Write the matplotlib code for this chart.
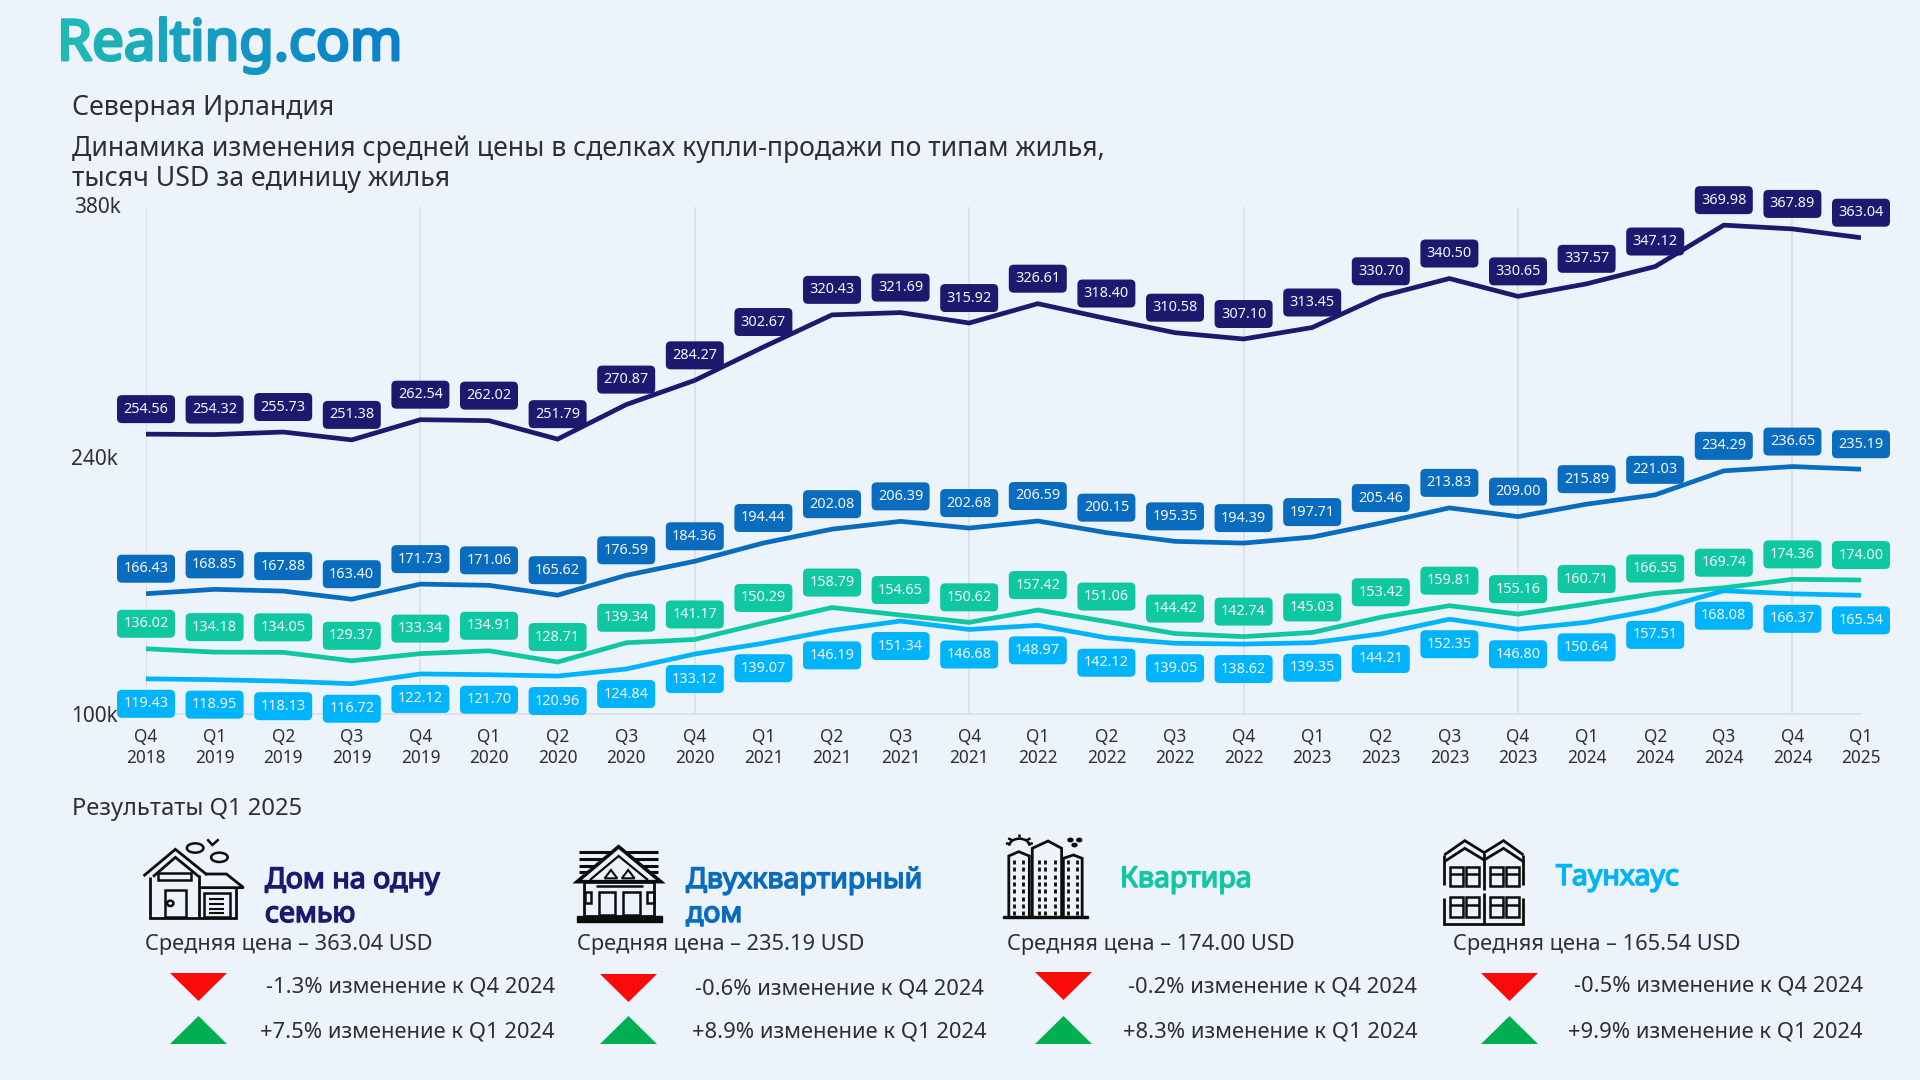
import numpy as np
import matplotlib
matplotlib.use("Agg")
import matplotlib.pyplot as plt
import matplotlib.patheffects as pe
from matplotlib.transforms import ScaledTranslation
from matplotlib.patches import FancyBboxPatch, Polygon, Rectangle, Ellipse, Arc

quarters = ["Q4\n2018","Q1\n2019","Q2\n2019","Q3\n2019","Q4\n2019","Q1\n2020","Q2\n2020","Q3\n2020","Q4\n2020",
            "Q1\n2021","Q2\n2021","Q3\n2021","Q4\n2021","Q1\n2022","Q2\n2022","Q3\n2022","Q4\n2022",
            "Q1\n2023","Q2\n2023","Q3\n2023","Q4\n2023","Q1\n2024","Q2\n2024","Q3\n2024","Q4\n2024","Q1\n2025"]
house = [254.56,254.32,255.73,251.38,262.54,262.02,251.79,270.87,284.27,302.67,320.43,321.69,315.92,326.61,318.40,310.58,307.10,313.45,330.70,340.50,330.65,337.57,347.12,369.98,367.89,363.04]
duplex = [166.43,168.85,167.88,163.40,171.73,171.06,165.62,176.59,184.36,194.44,202.08,206.39,202.68,206.59,200.15,195.35,194.39,197.71,205.46,213.83,209.00,215.89,221.03,234.29,236.65,235.19]
flat = [136.02,134.18,134.05,129.37,133.34,134.91,128.71,139.34,141.17,150.29,158.79,154.65,150.62,157.42,151.06,144.42,142.74,145.03,153.42,159.81,155.16,160.71,166.55,169.74,174.36,174.00]
town = [119.43,118.95,118.13,116.72,122.12,121.70,120.96,124.84,133.12,139.07,146.19,151.34,146.68,148.97,142.12,139.05,138.62,139.35,144.21,152.35,146.80,150.64,157.51,168.08,166.37,165.54]
y_ticks = [100, 240, 380]
y_tick_labels = ["100k", "240k", "380k"]

NAVY, BLUE, GREEN, SKY = "#1b1a6f", "#0a6cbe", "#0fc7a0", "#00b4fb"
BG, TXT = "#edf3fb", "#2e2e33"
FONT = ["Noto Sans", "DejaVu Sans"]
plt.rcParams["font.family"] = FONT

fig = plt.figure(figsize=(19.2, 10.8), dpi=100, facecolor=BG)
ax = fig.add_axes([146/1920, (1080-714)/1080, (1861-146)/1920, 507/1080], facecolor="none")
ax.set_xlim(0, 25); ax.set_ylim(100, 380)
for s in ["top", "left", "right"]:
    ax.spines[s].set_visible(False)
ax.spines["bottom"].set_color("#d9dee7"); ax.spines["bottom"].set_linewidth(1.2)
x = np.arange(len(quarters))
ax.set_xticks(x, quarters, fontsize=12.4, color=TXT, linespacing=1.2)
ax.set_yticks(y_ticks, y_tick_labels, fontsize=15, color=TXT)
ax.tick_params(length=0, axis="both")
ax.tick_params(axis="x", pad=10)
ax.tick_params(axis="y", pad=20)
for lab, dx, dy in zip(ax.get_yticklabels(), (0, 0, 3), (0, 3.5, 2)):
    lab.set_transform(lab.get_transform() + ScaledTranslation(dx/100, dy/100, fig.dpi_scale_trans))
for g in x[::4]:
    ax.axvline(g, color="#d9dee7", lw=1.2, zorder=1)

ov = fig.add_axes([0, 0, 1, 1], facecolor="none")
ov.set_xlim(0, 1920); ov.set_ylim(1080, 0); ov.axis("off")

def to_px(xv, yv):
    d = ax.transData.transform((xv, yv))
    return ov.transData.inverted().transform(d)

series = [(house, NAVY, -25), (duplex, BLUE, -25), (flat, GREEN, -25), (town, SKY, 25)]
for vals, col, off in series:
    ax.plot(x, vals, color=col, lw=3.4, solid_joinstyle="miter", solid_capstyle="butt", zorder=3)
    for xi, v in zip(x, vals):
        px, py = to_px(xi, v)
        py += off
        ov.add_patch(FancyBboxPatch((px-26, py-11), 52, 22, boxstyle="round,pad=3,rounding_size=5",
                                    fc=col, ec="none", zorder=5))
        ov.text(px, py, f"{v:.2f}", color="#f2f7ff", fontsize=10.4, ha="center", va="center", zorder=6)

# logo, one colour per letter along the gradient
logo = "Realting.com"
c0, c1 = np.array([0x1f, 0xb8, 0xb5])/255, np.array([0x07, 0x78, 0xcc])/255
r = fig.canvas.get_renderer()
LOGO_FS = 40.5
probe = ov.text(0, 0, logo, fontsize=LOGO_FS)
total = probe.get_window_extent(r).width
for i, ch in enumerate(logo):
    probe.set_text(logo[:i])
    w = probe.get_window_extent(r).width if i else 0
    t = ov.text(57 + w, 60, ch, fontsize=LOGO_FS, color=tuple(c0 + (c1-c0)*(w/total)), ha="left", va="baseline")
    t.set_path_effects([pe.withStroke(linewidth=2.2, foreground=t.get_color())])
probe.remove()

ov.text(72, 115, "Северная Ирландия", fontsize=19.2, color=TXT, va="baseline")
ov.text(72, 156, "Динамика изменения средней цены в сделках купли-продажи по типам жилья,", fontsize=19.2, color=TXT, va="baseline")
ov.text(72, 186, "тысяч USD за единицу жилья", fontsize=19.2, color=TXT, va="baseline")
ov.text(72, 815, "Результаты Q1 2025", fontsize=17.1, color=TXT, va="baseline")

names = [("Дом на одну\nсемью", NAVY, 265, 888), ("Двухквартирный\nдом", BLUE, 686, 888),
         ("Квартира", GREEN, 1120, 887), ("Таунхаус", SKY, 1556, 885)]
for nm, col, nx, ny in names:
    for j, part in enumerate(nm.split("\n")):
        t = ov.text(nx, ny + 34*j, part, color=col, fontsize=20.6, va="baseline")
        t.set_path_effects([pe.withStroke(linewidth=1.1, foreground=col)])

avg = [("363.04", 145), ("235.19", 577), ("174.00", 1007), ("165.54", 1453)]
for val, ax_x in avg:
    ov.text(ax_x, 950, f"Средняя цена – {val} USD", fontsize=15.7, color=TXT, va="baseline")

RED, UP = "#fb0a0a", "#00b050"
changes = [("-1.3%", "+7.5%", 555, 555, 170, 973, 987), ("-0.6%", "+8.9%", 984, 987, 600, 974, 989),
           ("-0.2%", "+8.3%", 1417, 1418, 1035, 972, 987), ("-0.5%", "+9.9%", 1863, 1863, 1481, 973, 986)]
for d, u, xd, xu, tx, ty, ly in changes:
    ov.text(xd, ly, f"{d} изменение к Q4 2024", fontsize=15.8, color=TXT, ha="right", va="center")
    ov.text(xu, 1032, f"{u} изменение к Q1 2024", fontsize=15.8, color=TXT, ha="right", va="center")
    ov.add_patch(Polygon([(tx, ty), (tx+57, ty), (tx+28.5, ty+28)], fc=RED, ec="none"))
    ov.add_patch(Polygon([(tx, 1044), (tx+57, 1044), (tx+28.5, 1016)], fc=UP, ec="none"))

# icons (decoration), sketched in the zoom crops' coordinates
def Z2(p): return (p[0]/1.568, 780 + p[1]/3)
def Z3(p): return (1000 + p[0]/1.704, 780 + p[1]/3)
def pl(T, pts, lw=1.8, closed=False, fc="none"):
    P = [T(p) for p in pts]
    ov.add_patch(Polygon(P, closed=closed, fc=fc, ec="#0d0d0d", lw=lw, joinstyle="miter"))
def rc(T, a, b, c, d, lw=1.8, fc="none"):
    pl(T, [(a, b), (c, b), (c, d), (a, d)], lw, True, fc)
def el(T, cx, cy, rx, ry, lw=1.8):
    X, Y = T((cx, cy)); w = T((cx+rx, cy))[0]-X; h = T((cx, cy+ry))[1]-Y
    ov.add_patch(Ellipse((X, Y), 2*w, 2*h, fc="none", ec="#0d0d0d", lw=lw))

# single family house
pl(Z2, [(225,288),(275,208),(325,285)], 2)
pl(Z2, [(240,290),(275,232),(312,290)], 2)
pl(Z2, [(235,290),(235,415),(370,415),(370,325)], 2)
pl(Z2, [(312,285),(312,415)], 2)
pl(Z2, [(322,282),(355,282),(382,323),(312,323)], 2)
rc(Z2, 248, 278, 300, 300)
rc(Z2, 258, 330, 292, 412)
el(Z2, 267, 370, 5, 8)
rc(Z2, 320, 340, 360, 412)
for yy in (358, 372, 386, 400):
    pl(Z2, [(328,yy),(352,yy)], 1.5)
el(Z2, 306, 204, 13, 14); el(Z2, 344, 232, 13, 14)
pl(Z2, [(325,178),(333,195),(343,178)])

# duplex
for yy in (217, 237, 257, 277, 297):
    pl(Z2, [(908,yy),(1032,yy)], 2.2)
pl(Z2, [(905,305),(970,200),(1036,305)], 2.6, True, BG)
pl(Z2, [(925,300),(970,228),(1016,300)], 1.6)
pl(Z2, [(948,295),(958,270),(968,295)], 1.5, True); pl(Z2, [(975,295),(985,270),(995,295)], 1.5, True)
rc(Z2, 915, 305, 1025, 408, 2, BG)
rc(Z2, 917, 335, 927, 370); rc(Z2, 1015, 335, 1025, 370)
rc(Z2, 940, 335, 965, 405); rc(Z2, 977, 335, 1003, 405)
pl(Z2, [(935,318),(1008,318)], 1.8)
rc(Z2, 905, 408, 1038, 425, 1, "#0d0d0d")

# apartment towers
pl(Z3, [(15,410),(15,228),(32,215),(50,228),(50,410)], 2, False, BG)
pl(Z3, [(108,410),(108,235),(125,225),(140,235),(140,410)], 2, False, BG)
pl(Z3, [(55,410),(55,205),(82,183),(105,205),(105,410)], 2, False, BG)
rc(Z3, 5, 408, 150, 413, 1, "#0d0d0d")
for cx in (24, 40, 67, 77, 93, 116, 131):
    for yy in np.arange(240, 400, 22):
        pl(Z3, [(cx, yy), (cx, yy+12)], 2)
ov.add_patch(Arc(Z3((33,197)), 20, 14, theta1=180, theta2=360, ec="#0d0d0d", lw=1.8))
for a, b, c, d in [(10,190,17,192),(14,175,21,181),(33,161,33,171),(52,175,45,181),(56,190,49,192)]:
    pl(Z3, [(a,b),(c,d)], 1.8)
for a, b in [(120,180),(135,180),(127,195)]:
    el(Z3, a, b, 3, 3, 2)

# townhouse
pl(Z3, [(757,225),(792,182),(825,218),(858,182),(892,225)], 2)
pl(Z3, [(757,245),(792,205),(825,240),(858,205),(892,245)], 2)
pl(Z3, [(757,225),(757,315)], 2); pl(Z3, [(892,225),(892,315)], 2)
pl(Z3, [(757,355),(757,433),(892,433),(892,355)], 2)
pl(Z3, [(825,218),(825,330)], 2); pl(Z3, [(825,340),(825,433)], 2)
for a0 in (767, 835):
    for b0 in (260, 352):
        for a in (a0, a0+27):
            rc(Z3, a, b0, a+22, b0+58, 1.8)
            pl(Z3, [(a, b0+22),(a+22, b0+22)], 1.8)

fig.savefig("out.png", dpi=100, facecolor=BG)
